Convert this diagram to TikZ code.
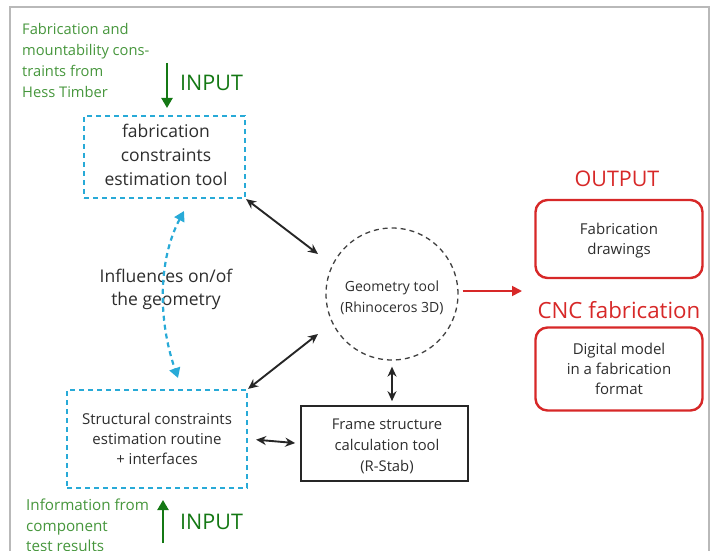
\documentclass[tikz,border=0pt]{standalone}
\usepackage{fontspec}
\setmainfont{Open Sans}
\usetikzlibrary{arrows.meta,calc}
\definecolor{tgreen}{RGB}{70,150,60}
\definecolor{agreen}{RGB}{20,120,20}
\definecolor{tblue}{RGB}{40,170,215}
\definecolor{tred}{RGB}{215,40,40}
\definecolor{tgray}{RGB}{45,45,45}
\definecolor{fgray}{RGB}{185,185,185}
\tikzset{
  txt/.style={font=\fontsize{15}{20}\selectfont, text=tgray, align=center},
  gtxt/.style={font=\fontsize{14.7}{21}\selectfont, text=tgreen, align=left, anchor=north west, inner sep=0pt},
  big/.style={font=\fontsize{21.5}{26}\selectfont, inner sep=0pt},
  bluebox/.style={draw=tblue, line width=2.2pt, dash pattern=on 5pt off 4pt},
  redbox/.style={draw=tred, line width=2.4pt, rounded corners=12pt},
  dbl/.style={{Stealth[length=10pt,width=9pt]}-{Stealth[length=10pt,width=9pt]}, line width=1.9pt, draw=black!85},
}
\begin{document}
\begin{tikzpicture}[x=1pt,y=-1pt]
\useasboundingbox (0,0) rectangle (718,551);
% frame
\draw[fgray, line width=1.2pt] (10,551) -- (10,7) -- (709,7) -- (709,551);
% top-left input
\node[gtxt] (gt1) at (22,23) {Fabrication and\\mountability cons-\\traints from\\Hess Timber};
\coordinate (ia1) at (167,63);
\coordinate (ia2) at (167,108);
\draw[agreen, line width=2.2pt, -{Triangle[length=10pt,width=11pt]}] (ia1) -- (ia2);
\node[big, text=agreen, anchor=west] (in1) at (180,83) {INPUT};
% fabrication box
\node[bluebox, minimum width=161pt, minimum height=82pt] (fab) at (164.5,157) {};
\node[txt, font=\fontsize{17.5}{24}\selectfont] (fabt) at (166,154.5) {fabrication\\constraints\\estimation tool};
% structural box
\node[bluebox, txt, minimum width=180pt, minimum height=98pt] (str) at (157,439) {Structural constraints\\estimation routine\\+ interfaces};
% influences
\node[txt, font=\fontsize{17.5}{23}\selectfont] (inf) at (166,289) {Influences on/of\\the geometry};
\coordinate (ba) at (184,211);
\coordinate (bb) at (178,378);
\draw[tblue, line width=2.2pt, dash pattern=on 5pt off 4pt, {Triangle[length=10pt,width=11pt]}-{Triangle[length=10pt,width=11pt]}] (ba) .. controls (158,260) and (158,320) .. (bb);
% geometry circle
\node[draw=black!75, line width=1.3pt, dash pattern=on 5pt off 4pt, circle, minimum size=132pt, inner sep=0pt] (geo) at (392,294) {};
\node[txt, font=\fontsize{14}{21}\selectfont] (geot) at (392,298) {Geometry tool\\(Rhinoceros 3D)};
% frame structure box
\node[draw=black!85, line width=1.6pt, minimum width=167pt, minimum height=75pt] (frm) at (384.5,443.5) {};
\node[txt, font=\fontsize{14.8}{21}\selectfont] (frmt) at (387,446.5) {Frame structure\\calculation tool\\(R-Stab)};
% arrows
\coordinate (g1) at (318,254);
\coordinate (g2) at (318,334);
\draw[dbl] (fab.south east) -- (g1);
\draw[dbl] (str.north east) -- (g2);
\draw[dbl, shorten <=8pt, shorten >=5pt] (str.east) -- (frm.west);
\draw[dbl, shorten <=6pt, shorten >=4pt] (geo.south) -- (geo.south |- frm.north);
% red output arrow
\coordinate (ro) at (522,291);
\draw[tred, line width=1.8pt, -{Triangle[length=10pt,width=10pt]}, shorten <=4pt] (geo.east |- ro) -- (ro);
% outputs
\node[big, text=tred] (out) at (617,179) {OUTPUT};
\node[redbox, minimum width=167pt, minimum height=78pt] (fd) at (619,239) {};
\node[txt] (fdt) at (619,241) {Fabrication\\drawings};
\node[big, text=tred, font=\fontsize{22.3}{26}\selectfont] (cnc) at (619,310) {CNC fabrication};
\node[redbox, txt, minimum width=167pt, minimum height=83pt] (dm) at (619,369) {Digital model\\in a fabrication\\format};
% bottom input
\coordinate (ua1) at (163,543);
\coordinate (ua2) at (163,500);
\draw[agreen, line width=2.2pt, -{Triangle[length=10pt,width=11pt]}] (ua1) -- (ua2);
\node[big, text=agreen, anchor=west] (in2) at (180,522) {INPUT};
\node[gtxt, font=\fontsize{15.2}{20.5}\selectfont] (gt2) at (26,499) {Information from\\component\\test results};
\end{tikzpicture}
\end{document}
